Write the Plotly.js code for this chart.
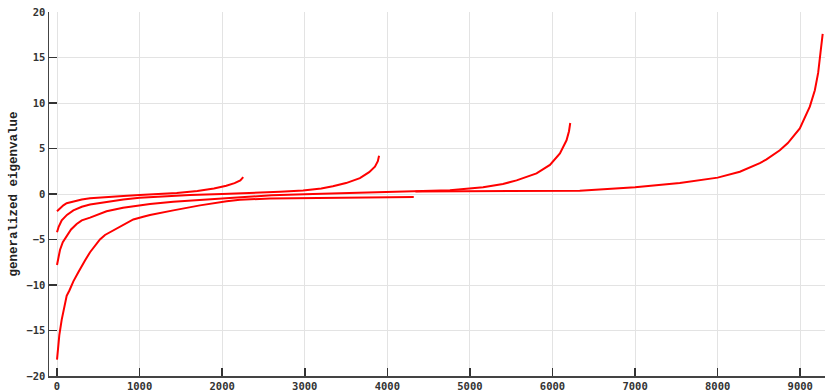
<!DOCTYPE html>
<html>
<head>
<meta charset="utf-8">
<script src="https://cdn.plot.ly/plotly-3.0.1.min.js"></script>
<style>html,body{margin:0;padding:0;background:#fff;}#chart{width:825px;height:392px;}</style>
</head>
<body>
<div id="chart"></div>
<script>
// Curve 1 (n ≈ 2260)
const aX = [0, 40, 77, 117, 198, 300, 400, 600, 803, 1000, 1207, 1450, 1700, 1900, 2050, 2150, 2220, 2255];
const aY = [-1.9, -1.55, -1.25, -1.02, -0.8, -0.6, -0.47, -0.32, -0.22, -0.12, -0.03, 0.12, 0.32, 0.6, 0.9, 1.2, 1.5, 1.85];
// Curve 2 (n ≈ 3900)
const bX = [0, 20, 57, 77, 120, 198, 300, 400, 600, 803, 1000, 1207, 1610, 2000, 2336, 2700, 2980, 3200, 3340, 3500, 3668, 3780, 3850, 3885, 3900];
const bY = [-4.2, -3.6, -2.9, -2.67, -2.3, -1.8, -1.4, -1.15, -0.85, -0.6, -0.42, -0.29, -0.11, 0.0, 0.1, 0.24, 0.38, 0.6, 0.85, 1.2, 1.75, 2.4, 3.0, 3.6, 4.2];
// Curve 3 (n ≈ 6220)
const cX = [0, 15, 36, 70, 117, 170, 238, 300, 400, 600, 800, 924, 1126, 1408, 1812, 2215, 2600, 3100, 3600, 4000, 4400, 4758, 5160, 5400, 5565, 5807, 5969, 6090, 6170, 6200, 6215];
const cY = [-7.8, -7.0, -6.15, -5.3, -4.6, -3.9, -3.3, -2.9, -2.6, -1.9, -1.5, -1.32, -1.1, -0.84, -0.58, -0.33, -0.15, 0.0, 0.12, 0.2, 0.3, 0.42, 0.73, 1.1, 1.5, 2.27, 3.2, 4.45, 5.9, 6.9, 7.8];
// Curve 4 (n ≈ 9270): negative branch
const dNegX = [0, 10, 28, 57, 90, 117, 150, 198, 258, 300, 339, 400, 460, 520, 581, 641, 763, 924, 1044, 1126, 1408, 1731, 2054, 2215, 2580, 3000, 3305, 3800, 4320];
const dNegY = [-18.2, -16.8, -15.5, -13.8, -12.3, -11.2, -10.6, -9.6, -8.6, -8.0, -7.3, -6.4, -5.7, -5.0, -4.5, -4.2, -3.6, -2.8, -2.5, -2.3, -1.8, -1.25, -0.8, -0.62, -0.5, -0.44, -0.4, -0.36, -0.33];
// Curve 4: positive branch
const dPosX = [4340, 4800, 5300, 5800, 6330, 7000, 7542, 8000, 8269, 8511, 8592, 8753, 8850, 8995, 9056, 9116, 9177, 9217, 9245, 9272];
const dPosY = [0.27, 0.3, 0.32, 0.34, 0.37, 0.73, 1.22, 1.8, 2.45, 3.4, 3.8, 4.8, 5.6, 7.2, 8.5, 9.6, 11.4, 13.3, 15.5, 17.6];

const xTicks = [0, 1000, 2000, 3000, 4000, 5000, 6000, 7000, 8000, 9000];
const yTicks = [-20, -15, -10, -5, 0, 5, 10, 15, 20];

const series = [[aX, aY], [bX, bY], [cX, cY], [dNegX, dNegY], [dPosX, dPosY]];
const traces = series.map(([x, y]) => ({
  x: x, y: y, type: 'scatter', mode: 'lines',
  line: {color: '#ff0000', width: 2},
  hoverinfo: 'skip', showlegend: false
}));

const tickFont = {family: 'DejaVu Sans Mono', size: 10.5, color: '#333', weight: 'bold'};
const layout = {
  width: 825, height: 392,
  margin: {l: 49, r: 0, t: 12, b: 16},
  paper_bgcolor: '#fff', plot_bgcolor: '#fff',
  showlegend: false,
  xaxis: {
    range: [-97, 9300], tickvals: xTicks, ticktext: xTicks.map(String),
    showgrid: true, gridcolor: '#e3e3e3', gridwidth: 1, zeroline: false,
    showline: true, linecolor: '#444', linewidth: 1.5,
    ticks: 'inside', ticklen: 8, tickcolor: '#333', tickwidth: 1.5,
    tickfont: tickFont
  },
  yaxis: {
    range: [-20, 20], tickvals: yTicks,
    showgrid: true, gridcolor: '#e3e3e3', gridwidth: 1, zeroline: false,
    showline: true, linecolor: '#444', linewidth: 1.5,
    ticks: 'inside', ticklen: 8, tickcolor: '#333', tickwidth: 1.5,
    tickfont: tickFont,
    title: {text: 'generalized eigenvalue', standoff: 6,
            font: {family: 'Liberation Mono', size: 12.5, color: '#222', weight: 'bold'}}
  }
};
Plotly.newPlot('chart', traces, layout, {displayModeBar: false, staticPlot: true});
</script>
</body>
</html>
